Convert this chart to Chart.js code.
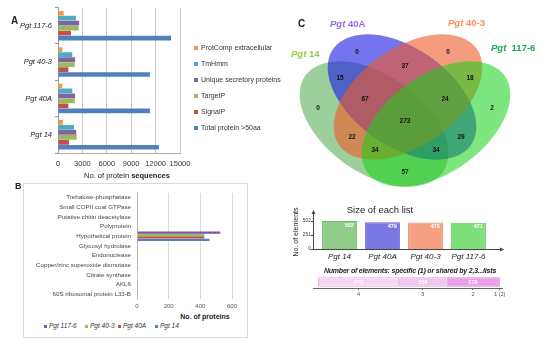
<!DOCTYPE html>
<html>
<head>
<meta charset="utf-8">
<script src="https://cdn.jsdelivr.net/npm/chart.js@4.4.1/dist/chart.umd.min.js"></script>
<style>
  html, body { margin: 0; padding: 0; background: #fff; }
  body { width: 550px; height: 348px; position: relative; overflow: hidden; font-family: Arial, "Liberation Sans", sans-serif; color: #222; }
  canvas { position: absolute; display: block; }
  .t { position: absolute; white-space: nowrap; line-height: 1; }
  .sq { display: inline-block; vertical-align: middle; margin-right: 3px; }
  #boxB { position: absolute; left: 23px; top: 183px; width: 223px; height: 153px; border: 1px solid #d9d9d9; }
</style>
</head>
<body>
<div id="boxB"></div>
<canvas id="cA" width="200" height="172" style="left:0;top:0"></canvas>
<canvas id="cB" width="224" height="130" style="left:23px;top:183px"></canvas>
<canvas id="cC" width="270" height="200" style="left:280px;top:0"></canvas>
<canvas id="cS" width="220" height="66" style="left:290px;top:200px"></canvas>
<canvas id="cN" width="230" height="28" style="left:290px;top:270px"></canvas>
<script>
// ---- panel A: predicted secretome per isolate ----
const strainsA = ['Pgt 117-6', 'Pgt 40-3', 'Pgt 40A', 'Pgt 14'];
const seriesA = ['ProtComp extracellular', 'TmHmm', 'Unique secretory proteins', 'TargetP', 'SignalP', 'Total protein >50aa'];
const protComp = [700, 530, 530, 600];
const tmHmm = [2200, 1760, 1760, 1970];
const uniqueSecretory = [2600, 2100, 2100, 2250];
const targetP = [2540, 2050, 2050, 2300];
const signalP = [1600, 1270, 1270, 1350];
const totalProtein = [13900, 11300, 11300, 12400];
const ticksA = [0, 3000, 6000, 9000, 12000, 15000];
const colorsA = ['#f79646', '#4bacc6', '#8064a2', '#9bbb59', '#c0504d', '#4f81bd'];

// ---- panel B: top annotations ----
const proteinsB = ['Trehalose-phosphatase', 'Small COPII coat GTPase', 'Putative chitin deacetylase', 'Polyprotein',
  'Hypothetical protein', 'Glycosyl hydrolase', 'Endonuclease', 'Copper/zinc superoxide dismutase',
  'Citrate synthase', 'AKL6', '60S ribosomal protein L33-B'];
const seriesB = ['Pgt 117-6', 'Pgt 40-3', 'Pgt 40A', 'Pgt 14'];
const b117 = [5, 5, 5, 5, 526, 5, 5, 5, 3, 5, 5];
const b403 = [5, 5, 5, 5, 425, 5, 5, 5, 3, 5, 5];
const b40A = [5, 5, 5, 5, 425, 5, 5, 5, 3, 5, 5];
const b14 = [5, 5, 5, 5, 458, 5, 5, 5, 3, 5, 5];
const ticksB = [0, 200, 400, 600];
const colorsB = ['#7d55ad', '#9bbb59', '#c0504d', '#4f81bd'];

// ---- panel C: venn (coordinates in venn space, 270 x 200) ----
const vennSets = ['Pgt 14', 'Pgt 40A', 'Pgt 40-3', 'Pgt 117-6'];
const vennCx = [94, 122, 128, 156];
const vennCy = [124, 97, 97, 124];
const vennRx = 84, vennRy = 49;
const vennRot = [35, 35, -35, -35];
const vennFill = ['rgba(60,160,60,0.5)', 'rgba(30,30,225,0.62)', 'rgba(240,90,40,0.6)', 'rgba(20,210,20,0.55)'];
const regionCounts = [0, 37, 0, 15, 18, 0, 67, 24, 2, 273, 22, 29, 34, 34, 57];
const regionX = [77, 125, 168, 60, 190, 38, 85, 165, 212, 125, 72, 181, 95, 156, 125];
const regionY = [52, 66, 52, 78, 78, 108, 99, 99, 108, 121, 137, 137, 150, 150, 172];

// ---- size of each list ----
const listNames = ['Pgt 14', 'Pgt 40A', 'Pgt 40-3', 'Pgt 117-6'];
const listSizes = [502, 479, 475, 471];
const sizeTicks = [0, 251, 502];
const listColors = ['#8fcd88', '#7b77e2', '#f6a282', '#7fe07b'];
const listBorders = ['#74b86c', '#6460cc', '#e08a6a', '#66c862'];

// ---- shared by n lists ----
const sharedLabels = ['4', '3', '2', '1 (2)'];
const sharedCounts = [273, 159, 178, 2];
const sharedColors = ['#f7d5f5', '#f3c6f1', '#eb9fe9', '#b060b0'];
const sharedBorders = ['#e0b4de', '#dcaada', '#d088ce', '#9a4a9a'];

Chart.defaults.font.family = 'Arial, "Liberation Sans", sans-serif';
Chart.defaults.animation = false;
Chart.defaults.responsive = false;
Chart.defaults.devicePixelRatio = 1;
Chart.defaults.plugins.legend.display = false;
Chart.defaults.plugins.tooltip.enabled = false;

const fixTicks = (vals) => (axis) => { axis.ticks = vals.map((v) => ({ value: v })); };
const plain = (v) => String(v);

function txt(html, left, top, css) {
  const d = document.createElement('div');
  d.className = 't';
  d.innerHTML = html;
  d.style.left = left + 'px';
  d.style.top = top + 'px';
  if (css) d.style.cssText += css;
  document.body.appendChild(d);
  return d;
}
const pgt = (s) => s.replace(/^Pgt/, '<i>Pgt</i>');

// ================= A =================
const valsA = [protComp, tmHmm, uniqueSecretory, targetP, signalP, totalProtein];
new Chart(document.getElementById('cA'), {
  type: 'bar',
  data: {
    labels: strainsA,
    datasets: seriesA.map((name, i) => ({ label: name, data: valsA[i], backgroundColor: colorsA[i], categoryPercentage: 0.82, barPercentage: 0.95 })),
  },
  options: {
    indexAxis: 'y',
    layout: { padding: { top: 7, right: 20 } },
    scales: {
      x: {
        min: 0, max: 15000, afterBuildTicks: fixTicks(ticksA),
        grid: { color: '#c8c8c8', drawTicks: false },
        border: { color: '#b0b0b0' },
        ticks: { callback: plain, font: { size: 7.5 }, color: '#333', padding: 6, maxRotation: 0, minRotation: 0, autoSkip: false },
        afterFit: (s) => { s.height = 19; },
      },
      y: {
        grid: { drawOnChartArea: false, tickLength: 3, color: '#999' },
        border: { color: '#999' },
        ticks: { font: { size: 7.5, style: 'italic' }, color: '#222', padding: 3 },
        afterFit: (s) => { s.width = 58; },
      },
    },
  },
});
txt('A', 11, 16, 'font-weight:bold;font-size:10px;');
seriesA.forEach((name, i) => {
  txt(`<span class="sq" style="width:4px;height:4px;background:${colorsA[i]}"></span>${name.replace('>', '&gt;')}`, 194, 44 + i * 16, 'font-size:7px;color:#333;');
});
txt('No. of protein <b>sequences</b>', 27, 172, 'width:200px;text-align:center;font-size:7.5px;color:#222;');

// ================= B =================
const valsB = [b117, b403, b40A, b14];
new Chart(document.getElementById('cB'), {
  type: 'bar',
  data: {
    labels: proteinsB,
    datasets: seriesB.map((name, i) => ({ label: name, data: valsB[i], backgroundColor: colorsB[i], categoryPercentage: 1, barPercentage: 0.95 })),
  },
  options: {
    indexAxis: 'y',
    layout: { padding: { top: 6, right: 15 } },
    scales: {
      x: {
        min: 0, max: 600, afterBuildTicks: fixTicks(ticksB),
        grid: { color: '#dadada', drawTicks: false },
        border: { display: false },
        ticks: { callback: plain, font: { size: 6 }, color: '#555', padding: 4, maxRotation: 0 },
        afterFit: (s) => { s.height = 14; },
      },
      y: {
        grid: { display: false, drawTicks: false },
        border: { color: '#d0d0d0' },
        ticks: { font: { size: 6.2 }, color: '#444', padding: 6, autoSkip: false },
        afterFit: (s) => { s.width = 114; },
      },
    },
  },
});
txt('B', 15, 182, 'font-weight:bold;font-size:9px;');
txt('No. of proteins', 150, 313, 'width:110px;text-align:center;font-weight:bold;font-size:7px;color:#222;');
const legBx = [44, 85, 118, 155];
seriesB.forEach((name, i) => {
  txt(`<span class="sq" style="width:3px;height:3px;background:${colorsB[i]};margin-right:2px"></span>${pgt(name)}`, legBx[i], 323, 'font-size:6.5px;font-style:italic;color:#333;');
});

// ================= C (venn) =================
const vennPlugin = {
  id: 'venn',
  beforeDatasetsDraw(chart) {
    const { ctx, scales: { x, y } } = chart;
    const rx = x.getPixelForValue(vennRx) - x.getPixelForValue(0);
    const ry = Math.abs(y.getPixelForValue(vennRy) - y.getPixelForValue(0));
    vennCx.forEach((cx, i) => {
      ctx.save();
      ctx.beginPath();
      ctx.ellipse(x.getPixelForValue(cx), y.getPixelForValue(vennCy[i]), rx, ry, vennRot[i] * Math.PI / 180, 0, Math.PI * 2);
      ctx.fillStyle = vennFill[i];
      ctx.fill();
      ctx.restore();
    });
  },
  afterDatasetsDraw(chart) {
    const { ctx } = chart, meta = chart.getDatasetMeta(0);
    ctx.save();
    ctx.font = 'bold 6.5px Arial, "Liberation Sans", sans-serif';
    ctx.fillStyle = '#111'; ctx.textAlign = 'center'; ctx.textBaseline = 'middle';
    meta.data.forEach((pt, i) => ctx.fillText(String(regionCounts[i]), pt.x, pt.y));
    ctx.restore();
  },
};
new Chart(document.getElementById('cC'), {
  type: 'scatter',
  data: { datasets: [{ data: regionX.map((x, i) => ({ x, y: regionY[i] })), pointRadius: 0 }] },
  options: {
    layout: { padding: 0 },
    scales: {
      x: { min: 0, max: 270, display: false },
      y: { min: 0, max: 200, reverse: true, display: false },
    },
  },
  plugins: [vennPlugin],
});
txt('C', 298, 19, 'font-weight:bold;font-size:10px;');
const vennTitleX = [291, 330, 448, 491];
const vennTitleY = [49, 19, 18, 43];
const vennTitleC = ['#99cc44', '#9966ee', '#f4905a', '#1aaa50'];
vennSets.forEach((name, i) => {
  txt(pgt(name).replace(' ', i === 3 ? '&nbsp; ' : ' '), vennTitleX[i], vennTitleY[i], `font-weight:bold;font-size:9.5px;color:${vennTitleC[i]};`);
});

// ================= size of each list =================
const arrowAxes = {
  id: 'arrowAxes',
  afterDraw(chart) {
    const { ctx, chartArea: a, scales: { y } } = chart;
    const x0 = a.left - 5;
    ctx.save();
    ctx.strokeStyle = '#444'; ctx.fillStyle = '#444'; ctx.lineWidth = 1;
    ctx.beginPath();
    ctx.moveTo(x0 + 0.5, a.bottom + 0.5); ctx.lineTo(x0 + 0.5, a.top - 2);
    ctx.moveTo(x0, a.bottom + 0.5); ctx.lineTo(a.right + 11, a.bottom + 0.5);
    y.ticks.forEach((t) => { const py = Math.round(y.getPixelForValue(t.value)) + 0.5; ctx.moveTo(x0 - 2, py); ctx.lineTo(x0, py); });
    ctx.stroke();
    ctx.beginPath(); ctx.moveTo(x0 + 0.5, a.top - 5); ctx.lineTo(x0 - 1.5, a.top - 1); ctx.lineTo(x0 + 2.5, a.top - 1); ctx.fill();
    ctx.beginPath(); ctx.moveTo(a.right + 14, a.bottom + 0.5); ctx.lineTo(a.right + 10, a.bottom - 1.5); ctx.lineTo(a.right + 10, a.bottom + 2.5); ctx.fill();
    ctx.restore();
  },
  afterDatasetsDraw(chart) {
    const { ctx } = chart, meta = chart.getDatasetMeta(0);
    ctx.save();
    ctx.font = 'bold 5.5px Arial, "Liberation Sans", sans-serif';
    ctx.fillStyle = '#fff'; ctx.textAlign = 'right'; ctx.textBaseline = 'middle';
    meta.data.forEach((bar, i) => ctx.fillText(String(listSizes[i]), bar.x + bar.width / 2 - 3, bar.y + 4));
    ctx.restore();
  },
};
new Chart(document.getElementById('cS'), {
  type: 'bar',
  data: {
    labels: listNames,
    datasets: [{ data: listSizes, backgroundColor: listColors, borderColor: listBorders, borderWidth: 1, categoryPercentage: 1, barPercentage: 0.81 }],
  },
  options: {
    layout: { padding: { top: 15, right: 20 } },
    scales: {
      x: {
        grid: { display: false, drawTicks: false }, border: { display: false },
        ticks: { font: { size: 8, style: 'italic' }, color: '#222', padding: 3, maxRotation: 0 },
        afterFit: (s) => { s.height = 17; },
      },
      y: {
        min: 0, max: 610, afterBuildTicks: fixTicks(sizeTicks),
        grid: { display: false, drawTicks: false }, border: { display: false },
        ticks: { font: { size: 5 }, color: '#444', padding: 7 },
        title: { display: true, text: 'No. of elements', font: { size: 7 }, color: '#222', padding: { top: 2, bottom: 0 } },
        afterFit: (s) => { s.width = 28; },
      },
    },
  },
  plugins: [arrowAxes],
});
txt('Size of each list', 330, 205, 'width:100px;text-align:center;font-size:9.5px;color:#222;');
txt('Number of elements: specific (1) or shared by 2,3...lists', 310, 267, 'width:200px;text-align:center;font-size:7px;font-style:italic;font-weight:bold;color:#222;letter-spacing:-0.2px;');

// ================= shared by n lists =================
const sharedTotal = sharedCounts.reduce((s, v) => s + v, 0);
const sharedMid = sharedCounts.map((c, i) => sharedCounts.slice(0, i).reduce((s, v) => s + v, 0) + c / 2);
sharedMid[sharedMid.length - 1] = sharedTotal - 1;
const sharedPlugin = {
  id: 'shared',
  afterDatasetsDraw(chart) {
    const { ctx, chartArea: a } = chart;
    ctx.save();
    ctx.font = 'bold 5.5px Arial, "Liberation Sans", sans-serif';
    ctx.fillStyle = '#fff'; ctx.textAlign = 'center'; ctx.textBaseline = 'middle';
    chart.data.datasets.forEach((ds, i) => {
      if (sharedCounts[i] < 20) return;
      const bar = chart.getDatasetMeta(i).data[0];
      ctx.fillText(String(sharedCounts[i]), (bar.x + bar.base) / 2, bar.y);
    });
    ctx.strokeStyle = '#666'; ctx.lineWidth = 1;
    ctx.beginPath(); ctx.moveTo(a.left - 5, a.bottom + 0.5); ctx.lineTo(a.right + 3, a.bottom + 0.5); ctx.stroke();
    ctx.restore();
  },
};
new Chart(document.getElementById('cN'), {
  type: 'bar',
  data: {
    labels: [''],
    datasets: sharedCounts.map((c, i) => ({ label: sharedLabels[i], data: [c], backgroundColor: sharedColors[i], borderColor: sharedBorders[i], borderWidth: 1, borderSkipped: false, categoryPercentage: 1, barPercentage: 0.8 })),
  },
  options: {
    indexAxis: 'y',
    layout: { padding: { top: 6, left: 28, right: 20 } },
    scales: {
      x: {
        stacked: true, min: 0, max: sharedTotal, afterBuildTicks: fixTicks(sharedMid),
        grid: { drawOnChartArea: false, tickLength: 2, color: '#666' }, border: { display: false },
        ticks: { callback: (v, i) => sharedLabels[i], font: { size: 5.5 }, color: '#555', padding: 1, autoSkip: false, maxRotation: 0 },
        afterFit: (s) => { s.height = 10; },
      },
      y: { stacked: true, display: false },
    },
  },
  plugins: [sharedPlugin],
});
</script>
</body>
</html>
